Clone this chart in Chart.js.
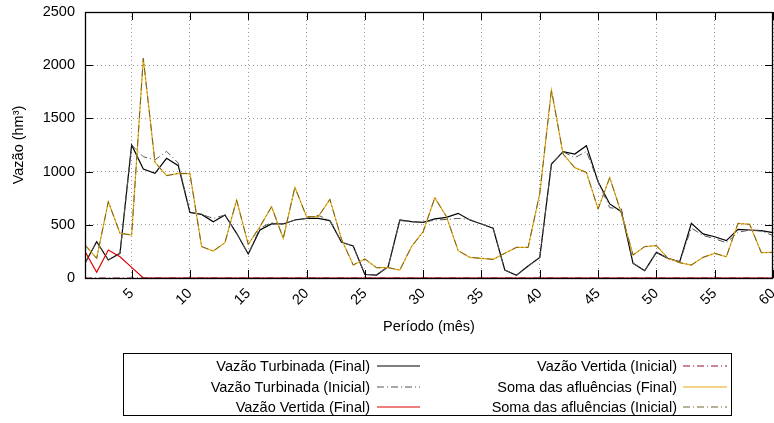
<!DOCTYPE html>
<html><head><meta charset="utf-8">
<script src="https://cdn.jsdelivr.net/npm/chart.js@4"></script>
<style>
body{margin:0;background:#fff;}
#wrap{position:relative;width:774px;height:423px;}
#legend{position:absolute;left:123px;top:353px;width:609px;height:63px;border:1px solid #000;box-sizing:border-box;font-family:"Liberation Sans",Arial,sans-serif;font-size:14.5px;color:#000;}
.txt{position:absolute;white-space:nowrap;text-align:right;height:18px;line-height:18px;}
.smp{position:absolute;}
</style></head><body>
<div id="wrap"><canvas id="c" width="774" height="423"></canvas><div id="legend"></div></div>
<script>
const periods = [1,2,3,4,5,6,7,8,9,10,11,12,13,14,15,16,17,18,19,20,21,22,23,24,25,26,27,28,29,30,
  31,32,33,34,35,36,37,38,39,40,41,42,43,44,45,46,47,48,49,50,51,52,53,54,55,56,57,58,59,60];
const xTicks = [5,10,15,20,25,30,35,40,45,50,55,60];
const yTicks = [0,500,1000,1500,2000,2500];

const turbinadaFinal = [138,341,169,232,1250,1025,984,1125,1056,617,598,529,592,420,226,451,508,508,545,561,
  561,539,335,301,34,28,107,545,529,523,555,570,608,545,508,467,75,25,113,194,
  1071,1187,1165,1244,905,696,623,138,69,241,185,153,514,414,388,351,457,451,445,426];
const turbinadaInicial = [138,341,169,232,1250,1140,1110,1190,1080,617,598,560,592,420,226,470,520,508,545,561,
  590,539,335,301,34,28,107,540,529,523,545,550,560,550,508,467,75,25,113,194,
  1071,1187,1130,1190,905,660,650,138,69,241,185,153,470,400,370,330,430,450,440,400];
const vertidaFinal = [248,53,263,200,100,0,0,0,0,0,0,0,0,0,0,0,0,0,0,0,
  0,0,0,0,0,0,0,0,0,0,0,0,0,0,0,0,0,0,0,0,
  0,0,0,0,0,0,0,0,0,0,0,0,0,0,0,0,0,0,0,0];
const vertidaInicial = [0,0,0,0,0,0,0,0,0,0,0,0,0,0,0,0,0,0,0,0,
  0,0,0,0,0,0,0,0,0,0,0,0,0,0,0,0,0,0,0,0,
  0,0,0,0,0,0,0,0,0,0,0,0,0,0,0,0,0,0,0,0];
const somaFinal = [310,185,717,420,404,2065,1087,962,984,981,295,254,332,733,316,482,670,373,852,576,
  576,739,363,122,179,97,97,75,295,435,755,576,257,194,185,175,232,288,288,796,
  1767,1165,1037,993,649,943,608,216,295,304,185,144,122,194,232,200,514,504,238,241];
const somaInicial = [310,185,717,420,404,2065,1087,962,984,981,295,254,332,733,316,482,670,373,852,576,
  576,739,363,122,179,97,97,75,295,435,755,576,257,194,185,175,232,288,288,796,
  1767,1165,1037,993,649,943,608,216,295,304,185,144,122,194,232,200,514,504,238,241];

const F = '"Liberation Sans", Arial, sans-serif';
const series = [
  {label:'Vazão Turbinada (Final)', data:turbinadaFinal, color:'#000000', dash:[], w:1.2, order:6},
  {label:'Vazão Turbinada (Inicial)', data:turbinadaInicial, color:'#555555', dash:[7,3,1,3], w:1, order:5},
  {label:'Vazão Vertida (Final)', data:vertidaFinal, color:'#e00000', dash:[], w:1.2, order:4},
  {label:'Vazão Vertida (Inicial)', data:vertidaInicial, color:'#9a1030', dash:[7,3,1,3], w:1, order:3},
  {label:'Soma das afluências (Final)', data:somaFinal, color:'#e8a90e', dash:[], w:1.2, order:2},
  {label:'Soma das afluências (Inicial)', data:somaInicial, color:'#6f6430', dash:[7,3,1,3], w:1, order:1}
];

const frame = {id:'frame', afterDraw(c){
  const {ctx, chartArea:a, scales:{x, y}} = c;
  ctx.save(); ctx.strokeStyle='#000'; ctx.lineWidth=1; ctx.setLineDash([]);
  ctx.beginPath();
  xTicks.forEach(v=>{const px=Math.round(x.getPixelForValue(v))+0.5;
    ctx.moveTo(px,a.bottom); ctx.lineTo(px,a.bottom-8); ctx.moveTo(px,a.top); ctx.lineTo(px,a.top+8);});
  yTicks.forEach(v=>{const py=Math.round(y.getPixelForValue(v))+0.5;
    ctx.moveTo(a.left,py); ctx.lineTo(a.left+8,py); ctx.moveTo(a.right,py); ctx.lineTo(a.right-8,py);});
  ctx.stroke();
  ctx.lineWidth=1.3;
  ctx.strokeRect(Math.round(a.left)+0.5, Math.round(a.top)+0.5, Math.round(a.right-a.left)-1, Math.round(a.bottom-a.top));
  ctx.restore();
}};

new Chart(document.getElementById('c'), {
  type:'line',
  data:{datasets: series.map(s=>({label:s.label, data:s.data.map((v,i)=>({x:periods[i], y:v})),
    borderColor:s.color, borderDash:s.dash, borderWidth:s.w, pointRadius:0, fill:false, tension:0, order:s.order}))},
  options:{
    responsive:false, animation:false, devicePixelRatio:1,
    layout:{padding:{left:0, right:1, top:12, bottom:87}},
    plugins:{legend:{display:false}, tooltip:{enabled:false}},
    scales:{
      x:{type:'linear', min:1, max:60,
        afterBuildTicks:s=>{s.ticks = xTicks.map(v=>({value:v}));},
        afterFit:s=>{s.height=58; s.paddingLeft=0; s.paddingRight=0;},
        ticks:{autoSkip:false, minRotation:45, maxRotation:45, padding:7, color:'#000', font:{size:14.5, family:F}, callback:v=>String(v)},
        grid:{drawTicks:false, color:'#9a9a9a', lineWidth:1},
        border:{display:false, dash:[1,3]},
        title:{display:true, text:'Período (mês)', color:'#000', font:{size:14.5, family:F}, padding:0}
      },
      y:{min:0, max:2500,
        afterBuildTicks:s=>{s.ticks = yTicks.map(v=>({value:v}));},
        afterFit:s=>{s.width=85; s.paddingTop=0; s.paddingBottom=0;},
        ticks:{padding:10, color:'#000', font:{size:14.5, family:F}, callback:v=>String(v)},
        grid:{drawTicks:false, color:'#9a9a9a', lineWidth:1},
        border:{display:false, dash:[1,3]},
        title:{display:true, text:'Vazão (hm³)', color:'#000', font:{size:14.5, family:F}, padding:{top:10, bottom:0}}
      }
    }
  },
  plugins:[frame]
});

// legend (HTML)
const lg = document.getElementById('legend');
const cols = [{textRight:370, s0:377, s1:420}, {textRight:677, s0:683, s1:727}];
const rows = [366, 386.5, 407];
series.forEach((s, k)=>{
  const col = cols[Math.floor(k/3)], row = rows[k%3];
  const ox = 124, oy = 354;
  const t = document.createElement('div'); t.className='txt';
  t.textContent = s.label;
  t.style.right = (609 - 2 - (col.textRight - ox)) + 'px';
  t.style.top = (row - 9 - oy) + 'px';
  lg.appendChild(t);
  const ns='http://www.w3.org/2000/svg';
  const svg = document.createElementNS(ns,'svg');
  svg.setAttribute('class','smp'); svg.setAttribute('width', col.s1-col.s0); svg.setAttribute('height', 4);
  svg.style.left = (col.s0 - ox) + 'px'; svg.style.top = (row - 2 - oy) + 'px';
  const ln = document.createElementNS(ns,'line');
  ln.setAttribute('x1',0); ln.setAttribute('x2',col.s1-col.s0); ln.setAttribute('y1',2); ln.setAttribute('y2',2);
  ln.setAttribute('stroke', s.color); ln.setAttribute('stroke-width', 1.2);
  if (s.dash.length) ln.setAttribute('stroke-dasharray', s.dash.join(','));
  svg.appendChild(ln); lg.appendChild(svg);
});
</script>
</body></html>
